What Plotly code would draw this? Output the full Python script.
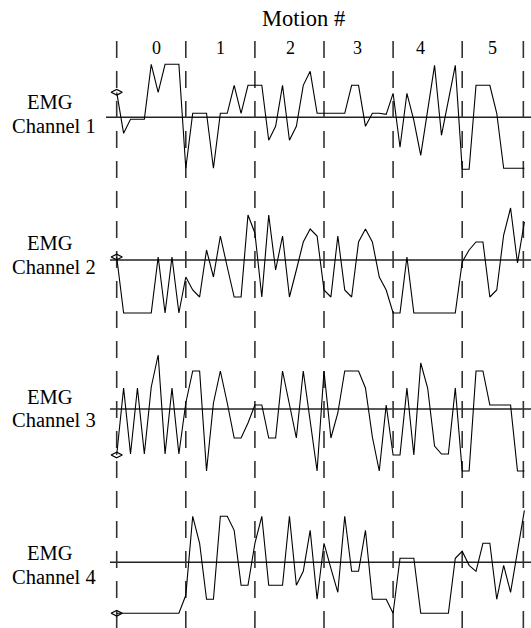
import plotly.graph_objects as go

# ---- data ----
motion_labels = ["0", "1", "2", "3", "4", "5"]
motion_label_pos = [5.7, 15.0, 25.1, 34.9, 43.9, 54.4]
motion_bounds = [0, 10, 20, 30, 40, 50, 58.85]
channel_top = ["EMG", "EMG", "EMG", "EMG"]
channel_bottom = ["Channel 1", "Channel 2", "Channel 3", "Channel 4"]

ch1 = [25, -16, -2, -2, -2, 53, 25, 53, 53, 53,
       -51, 4, 4, 4, -51, 4, 4, 32, 4, 32,
       32, 32, -23, -9, 32, -23, -9, 32, 46, 4,
       4, 4, 4, 4, 32, 32, -9, 4, 4, 3,
       24, -30, 24, -3, -38, 5, 52, -18, 18, 52,
       -52, -52, 32, 32, 32, 4, -51, -51, -51, -51]
ch2 = [3, -53, -53, -53, -53, -53, 3, -53, 3, -53,
       -17, -30, -37, 10, -17, 24, -7, -37, -37, 45,
       27, -37, 45, -10, 24, -37, -10, 18, 31, 24,
       -30, -37, 24, -30, -37, 18, 31, 18, -17, -30,
       -53, -53, 3, -53, -53, -53, -53, -53, -53, -53,
       -2, 10, 18, 18, -37, -30, 25, 52, -3, 38]
ch3 = [-46, 21, -45, 21, -45, 22, 54, -45, 21, -45,
       6, 38, 38, -62, 6, 38, 6, -29, -29, -14,
       4, 4, -29, -29, 38, 6, -29, 38, -11, -62,
       38, -29, -4, 38, 38, 38, 21, -28, -62, 4,
       -46, -46, 21, -46, 46, 21, -37, -45, -45, 21,
       -62, -62, 38, 38, 4, 4, 4, 4, -62, -62]
ch4 = [-51, -51, -51, -51, -51, -51, -51, -51, -51, -51,
       -33, 46, 19, -37, -37, 46, 46, 32, -23, -23,
       19, 46, -23, -23, -23, 46, -23, -9, 32, -37,
       19, -6, -30, 46, -9, -9, 32, -37, -37, -37,
       -51, 4, 4, 4, -51, -51, -51, -51, -51, 4,
       11, -3, -9, 19, 19, -37, -3, -30, 9, 52]
channels = [ch1, ch2, ch3, ch4]

# ---- layout constants ----
baselines = [117.3, 260, 409, 562.3]
baseline_start = [-1.55, -0.97, -0.97, -0.97]
label_top_y = [101.7, 243.3, 396.7, 553.3]
label_bot_y = [126.2, 266.7, 420, 576.7]
x_left = -116.7 / 6.91
x_right = (531 - 116.7) / 6.91


def px_to_x(px):
    return x_left + px / 6.91


SERIF = "Liberation Serif, Times New Roman, serif"

fig = go.Figure()

for k, vals in enumerate(channels):
    base = -baselines[k]
    xs = list(range(len(vals)))
    ys = [base + v for v in vals]
    fig.add_shape(type="line", x0=baseline_start[k], x1=x_right, y0=base, y1=base,
                  line=dict(color="#222", width=1.6), layer="below")
    fig.add_trace(go.Scatter(x=xs, y=ys, mode="lines",
                             line=dict(color="black", width=1.1),
                             hoverinfo="skip", showlegend=False))
    fig.add_trace(go.Scatter(x=[xs[0]], y=[ys[0]], mode="markers",
                             marker=dict(symbol="diamond-wide-open", size=8,
                                         color="black", line=dict(width=1.2)),
                             hoverinfo="skip", showlegend=False))
    fig.add_annotation(x=px_to_x(49.5), y=-label_top_y[k], text=channel_top[k],
                       showarrow=False, xanchor="center", yanchor="middle",
                       font=dict(family=SERIF, size=20.5, color="black"))
    fig.add_annotation(x=px_to_x(54), y=-label_bot_y[k], text=channel_bottom[k],
                       showarrow=False, xanchor="center", yanchor="middle",
                       font=dict(family=SERIF, size=20.5, color="black"))

for b in motion_bounds:
    fig.add_shape(type="line", x0=b, x1=b, y0=-41, y1=-640,
                  line=dict(color="#333", width=1.6, dash="17px,13px"), layer="below")

for lbl, p in zip(motion_labels, motion_label_pos):
    fig.add_annotation(x=p, y=-48, text=lbl, showarrow=False,
                       xanchor="center", yanchor="middle",
                       font=dict(family=SERIF, size=18, color="black"))

fig.add_annotation(x=px_to_x(303), y=-18.5, text="Motion #", showarrow=False,
                   xanchor="center", yanchor="middle",
                   font=dict(family=SERIF, size=22.5, color="black"))

fig.update_layout(
    width=531, height=628,
    margin=dict(l=0, r=0, t=0, b=0),
    paper_bgcolor="white", plot_bgcolor="white",
    xaxis=dict(range=[x_left, x_right], visible=False, fixedrange=True),
    yaxis=dict(range=[-628, 0], visible=False, fixedrange=True),
    showlegend=False,
)

fig.write_html("out.html", config={"displayModeBar": False},
               post_script="document.body.style.margin='0px';document.body.style.overflow='hidden';")
